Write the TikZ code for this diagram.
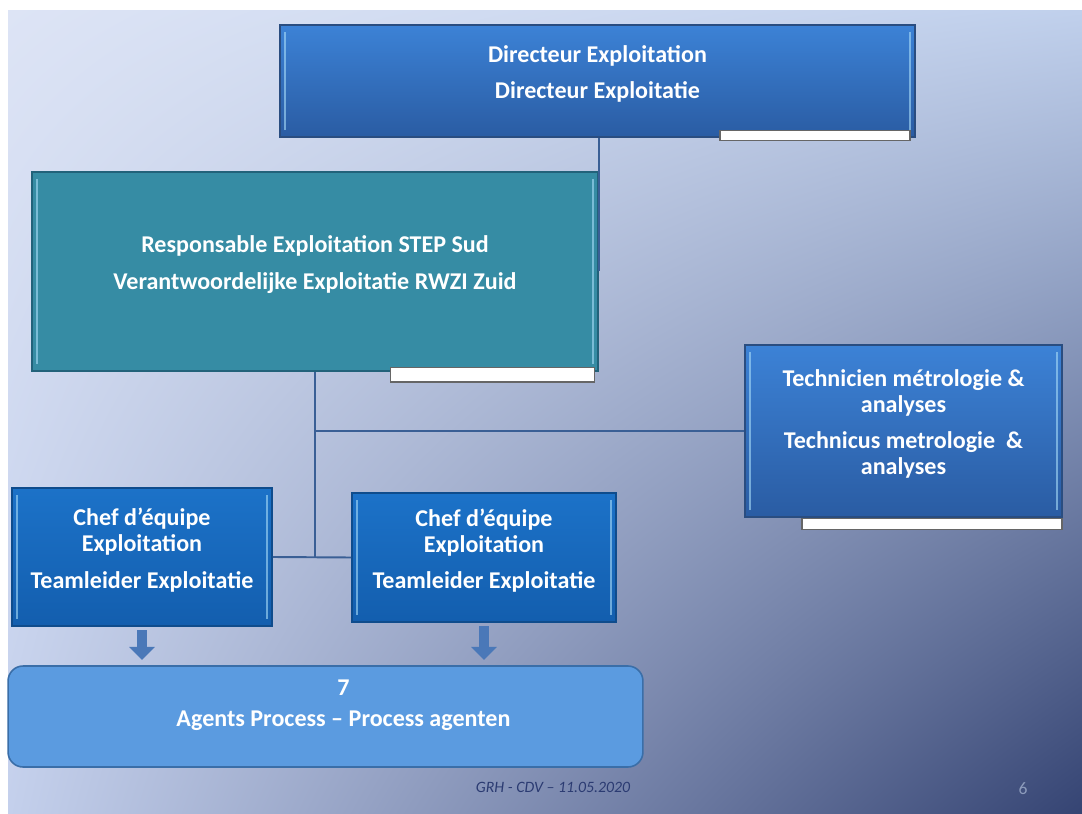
\documentclass[tikz,border=0pt]{standalone}
\usepackage{fontspec}
\setmainfont{Carlito}
\usepackage{xcolor}
\usepackage{tikz}
\usetikzlibrary{arrows.meta, positioning, shadings}

\definecolor{bgUL}{HTML}{DDE4F5}
\definecolor{bgUR}{HTML}{C0D0EC}
\definecolor{bgLL}{HTML}{C4D0EC}
\definecolor{bgLR}{HTML}{354473}
\definecolor{dirTop}{HTML}{3C82D6}
\definecolor{dirBot}{HTML}{2A5CA3}
\definecolor{dirLine}{HTML}{2A4D80}
\definecolor{tealFill}{HTML}{368CA4}
\definecolor{tealLine}{HTML}{22627A}
\definecolor{chefTop}{HTML}{1C72C8}
\definecolor{chefBot}{HTML}{135EAE}
\definecolor{chefLine}{HTML}{0F4C8C}
\definecolor{agentFill}{HTML}{5B9BE0}
\definecolor{agentLine}{HTML}{3A6EA8}
\definecolor{linkBlue}{HTML}{3A5F95}
\definecolor{arrowFill}{HTML}{4A78B8}
\definecolor{edgeLight}{HTML}{A8DCF8}
\definecolor{footBlue}{HTML}{2B3B72}
\definecolor{pageGray}{HTML}{8D9CBC}

\begin{document}
\begin{tikzpicture}[
  x=0.02cm, y=-0.02cm,
  font=\fontsize{13.7}{14.8}\selectfont\bfseries,
  bevel/.style={path picture={
    \fill[edgeLight, opacity=.6] ([shift={(2pt,-4pt)}]path picture bounding box.north west)
      rectangle ([shift={(3.5pt,4pt)}]path picture bounding box.south west);
    \fill[edgeLight, opacity=.6] ([shift={(-3.5pt,-4pt)}]path picture bounding box.north east)
      rectangle ([shift={(-2pt,4pt)}]path picture bounding box.south east);
  }},
  box/.style={draw, line width=0.9pt, text=white, align=center, inner sep=2pt,
    text depth=10pt, bevel},
  dirbox/.style={box, draw=dirLine, top color=dirTop, bottom color=dirBot},
  tealbox/.style={box, draw=tealLine, fill=tealFill},
  chefbox/.style={box, draw=chefLine, top color=chefTop, bottom color=chefBot},
  tab/.style={draw=gray!80!black, fill=white, line width=0.8pt, inner sep=0pt},
  link/.style={draw=linkBlue, line width=1.1pt},
  blockarrow/.style={draw=arrowFill, line width=0.2cm, shorten <=2pt, shorten >=3pt,
    -{Triangle[width=0.5cm, length=0.26cm]}}
]

% Background
\useasboundingbox (0,0) rectangle (1082,814);
\fill[white] (0,0) rectangle (1082,814);
\shade[upper left=bgUL, upper right=bgUR, lower left=bgLL, lower right=bgLR]
  (8,11) rectangle (1082,814);

% Nodes
\node[dirbox, minimum width=12.7cm, minimum height=2.24cm] (dir) at (597.5,81)
  {Directeur Exploitation\\[6pt]Directeur Exploitatie};
\node[tab, anchor=east, minimum width=3.8cm, minimum height=0.2cm] (dirtab)
  at ([xshift=-2.8pt, yshift=1.3pt]dir.south east) {};

\node[tealbox, minimum width=11.32cm, minimum height=3.98cm] (resp) at (315,271.5)
  {Responsable Exploitation STEP Sud\\[6pt]Verantwoordelijke Exploitatie RWZI Zuid};
\node[tab, anchor=north east, minimum width=4.08cm, minimum height=0.3cm] (resptab)
  at ([xshift=-2pt, yshift=3pt]resp.south east) {};

\node[dirbox, minimum width=6.34cm, minimum height=3.44cm] (tech) at (903.5,431)
  {Technicien métrologie \&\\analyses\\[6pt]Technicus metrologie~ \&\\analyses};
\node[tab, anchor=north east, minimum width=5.2cm, minimum height=0.22cm] (techtab)
  at (tech.south east) {};

\node[chefbox, minimum width=5.2cm, minimum height=2.76cm] (chef1) at (142,557)
  {Chef d’équipe\\Exploitation\\[6pt]Teamleider Exploitatie};
\node[chefbox, minimum width=5.28cm, minimum height=2.58cm] (chef2) at (484,557.5)
  {Chef d’équipe\\Exploitation\\[6pt]Teamleider Exploitatie};

\node[draw=agentLine, fill=agentFill, line width=0.9pt, rounded corners=0.3cm,
  text=white, align=center, text depth=15pt, minimum width=12.7cm, minimum height=2.02cm]
  (agents) at (325.5,716.5)
  {\hspace*{0.72cm}7\\[3pt]\hspace*{0.72cm}Agents Process -- Process agenten};

% Pointers
\draw[link] (dir.south -| resp.east) -- (resp.east);
\draw[link] (resp.south) -- (resp.south |- chef1.east);
\draw[link] (chef1.east) -- (chef2.west);
\draw[link] (resp.south |- tech.west) -- (tech.west);
\draw[blockarrow] (chef1.south) -- (chef1.south |- agents.north);
\draw[blockarrow] (chef2.south) -- (chef2.south |- agents.north);

% Footer
\node[text=footBlue, font=\fontsize{9}{11}\selectfont\itshape] (foot) at (553,787)
  {GRH - CDV – 11.05.2020};
\node[text=pageGray, font=\fontsize{10}{12}\selectfont] (page) at (1023,789) {6};

\end{tikzpicture}
\end{document}
